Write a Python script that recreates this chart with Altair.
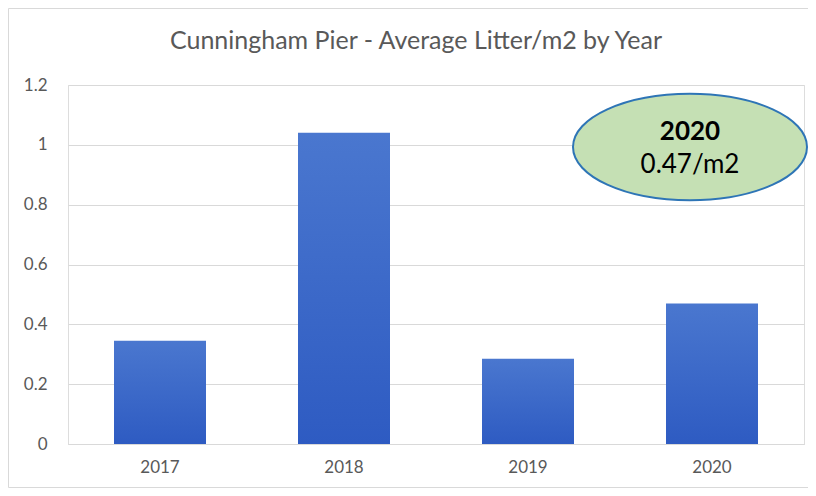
import altair as alt
import pandas as pd

years = ["2017", "2018", "2019", "2020"]
litter = [0.345, 1.04, 0.285, 0.47]
title_text = ["Cunningham  Pier - Average Litter/m2 by Year"]
callout_year = ["2020"]
callout_value = ["0.47/m2"]

df = pd.DataFrame({"year": years, "litter": litter})
FONT = "Lato"
GREY = "#595959"

W, H = 736, 359

bars = alt.Chart(df).mark_bar(
    color=alt.Gradient(
        gradient="linear",
        stops=[alt.GradientStop(color="#4a77cf", offset=0),
               alt.GradientStop(color="#2e5bc2", offset=1)],
        x1=0, x2=0, y1=0, y2=1,
    )
).encode(
    x=alt.X("year:N", sort=years, title=None,
            scale=alt.Scale(paddingInner=0.5, paddingOuter=0.25),
            axis=alt.Axis(labelAngle=0, labelFont=FONT, labelFontSize=17,
                          labelColor=GREY, labelPadding=15, ticks=False,
                          domain=True, domainColor="#d9d9d9", grid=False)),
    y=alt.Y("litter:Q", title=None,
            scale=alt.Scale(domain=[0, 1.2], nice=False),
            axis=alt.Axis(values=[0, 0.2, 0.4, 0.6, 0.8, 1, 1.2],
                          format=".1~f",
                          labelFont=FONT, labelFontSize=17, labelColor=GREY,
                          labelPadding=21, ticks=False, domain=False,
                          gridColor="#d9d9d9", gridWidth=1.2)),
)

ann = pd.DataFrame({"y": callout_year, "v": callout_value})
ttl = pd.DataFrame({"t": title_text})

ellipse = alt.Chart(ann).mark_point(
    shape="M-1,0A1,0.455,0,1,1,1,0A1,0.455,0,1,1,-1,0",
    filled=True, fill="#c5e0b4", stroke="#2e75b6", strokeWidth=2,
    opacity=1, size=234 * 234,
).encode(x=alt.value(622), y=alt.value(62))

t_year = alt.Chart(ann).mark_text(
    font=FONT, fontSize=26, fontWeight="bold", color="black"
).encode(x=alt.value(622), y=alt.value(47), text="y:N")

t_val = alt.Chart(ann).mark_text(
    font=FONT, fontSize=26, color="black"
).encode(x=alt.value(622), y=alt.value(80), text="v:N")

title = alt.Chart(ttl).mark_text(
    font=FONT, fontSize=25, color=GREY, baseline="alphabetic", align="center"
).encode(x=alt.value(348), y=alt.value(-36), text="t:N")

frame_left = alt.Chart(ann).mark_rule(color="#d9d9d9", strokeWidth=1).encode(
    x=alt.value(-59.5), y=alt.value(-76.5), y2=alt.value(402.5))
frame_top = alt.Chart(ann).mark_rule(color="#d9d9d9", strokeWidth=1).encode(
    x=alt.value(-59.5), x2=alt.value(740), y=alt.value(-76.5))
frame_bottom = alt.Chart(ann).mark_rule(color="#d9d9d9", strokeWidth=1).encode(
    x=alt.value(-59.5), x2=alt.value(740), y=alt.value(402.5))

chart = alt.layer(frame_left, frame_top, frame_bottom, title, bars, ellipse,
                  t_year, t_val).properties(
    width=W, height=H,
    autosize=alt.AutoSizeParams(type="none"),
    padding={"left": 60, "top": 77, "right": 4, "bottom": 44},
).configure_view(stroke=None).configure(background="white")

chart.save("out.html", embed_options={"renderer": "svg", "actions": False})
